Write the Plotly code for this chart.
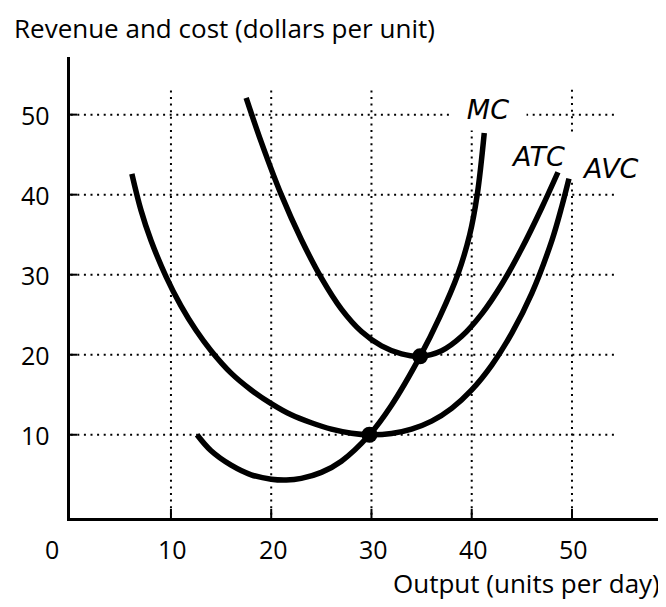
import plotly.graph_objects as go

# ---- data ----
x_ticks = [10, 20, 30, 40, 50]
x_tick_labels = ["10", "20", "30", "40", "50"]
y_ticks = [10, 20, 30, 40, 50]
y_tick_labels = ["10", "20", "30", "40", "50"]

mc_x = [12.6, 14, 16, 18, 20, 21.5, 23, 25, 27, 29.8, 32, 34.85, 36.8, 38.6, 39.8, 40.55, 41.25]
mc_y = [10.0, 8.0, 6.2, 5.0, 4.45, 4.35, 4.55, 5.3, 6.7, 10.0, 13.7, 19.8, 24.7, 30.0, 35.0, 40.0, 47.7]

atc_x = [17.5, 19, 21, 23, 25, 27, 29, 31, 33, 34.85, 37, 39, 41, 43, 45, 47, 48.6]
atc_y = [52.1, 46.6, 40.0, 34.4, 29.6, 25.7, 22.9, 21.1, 20.1, 19.8, 20.5, 22.3, 25.1, 28.8, 33.3, 38.4, 42.8]

avc_x = [6.1, 7, 8, 9.5, 11, 12.5, 14, 16, 18, 20, 22, 24, 26, 28, 29.8, 32, 34, 36, 38, 40, 42, 44, 46, 48, 49, 49.7]
avc_y = [42.6, 38.1, 34.3, 29.8, 26.1, 23.05, 20.5, 17.7, 15.6, 13.9, 12.5, 11.5, 10.7, 10.2, 10.0, 10.15, 10.7, 11.7, 13.3, 15.6, 18.7, 22.7, 27.7, 34.3, 38.6, 42.0]

dot_x = [29.8, 34.85]
dot_y = [10.0, 19.8]

curve_labels = ["MC", "ATC", "AVC"]
label_x = [41.6, 46.6, 53.8]
label_y = [50.6, 44.75, 43.25]

y_title = "Revenue and cost (dollars per unit)"
x_title = "Output (units per day)"

FONT = "Open Sans"
LABEL_FONT = "DejaVu Sans"
FS = 25
X0, X1 = -0.07, 58.58
Y0, Y1 = -0.4, 57.2
GRID_X_END = 54.2
GRID_Y_END = 53.4

fig = go.Figure()

for xs, ys in [(avc_x, avc_y), (atc_x, atc_y), (mc_x, mc_y)]:
    fig.add_trace(go.Scatter(x=xs, y=ys, mode="lines",
                             line=dict(color="black", width=5.5, shape="spline", smoothing=1.0),
                             hoverinfo="skip", showlegend=False))

fig.add_trace(go.Scatter(x=dot_x, y=dot_y, mode="markers",
                         marker=dict(color="black", size=16),
                         hoverinfo="skip", showlegend=False))

shapes = []
dash = "2px,4.6px"
grid_line = dict(color="black", width=2, dash=dash)
for v in y_ticks:
    shapes.append(dict(type="line", xref="x", yref="y", x0=0, x1=GRID_X_END, y0=v, y1=v,
                       line=grid_line, layer="below"))
    shapes.append(dict(type="line", xref="x", yref="y", xsizemode="pixel", xanchor=X0,
                       x0=-10, x1=7, y0=v, y1=v, line=dict(color="black", width=2)))
for v in x_ticks:
    if v == x_ticks[-1]:
        # the last vertical grid line is interrupted beside the curve labels
        segs = [(0, 41.5), (47.9, GRID_Y_END)]
    else:
        segs = [(0, GRID_Y_END)]
    for a, b in segs:
        shapes.append(dict(type="line", xref="x", yref="y", x0=v, x1=v, y0=a, y1=b,
                           line=grid_line, layer="below"))
    shapes.append(dict(type="line", xref="x", yref="y", ysizemode="pixel", yanchor=Y0,
                       y0=-9, y1=9, x0=v, x1=v, line=dict(color="black", width=2)))

annotations = []
for v, t in zip(y_ticks, y_tick_labels):
    annotations.append(dict(x=X0, y=v, xref="x", yref="y", text=t, showarrow=False,
                            xanchor="right", yanchor="middle", xshift=-18,
                            font=dict(family=FONT, size=FS, color="black")))
for v, t in zip(x_ticks, x_tick_labels):
    annotations.append(dict(x=v, y=Y0, xref="x", yref="y", text=t, showarrow=False,
                            xanchor="center", yanchor="middle", yshift=-31, xshift=2,
                            font=dict(family=FONT, size=FS, color="black")))
annotations.append(dict(x=X0, y=Y0, xref="x", yref="y", text="0", showarrow=False,
                        xanchor="center", yanchor="middle", xshift=-18, yshift=-31,
                        font=dict(family=FONT, size=FS, color="black")))

for i, (t, lx, ly) in enumerate(zip(curve_labels, label_x, label_y)):
    ann = dict(x=lx, y=ly, xref="x", yref="y", text="<i>" + t + "</i>",
               showarrow=False, xanchor="center", yanchor="middle",
               font=dict(family=LABEL_FONT, size=27, color="black"))
    if i == 0:
        ann.update(bgcolor="white", borderpad=5, width=66)
    annotations.append(ann)

annotations.append(dict(x=-0.0986, y=1.1063, xref="paper", yref="paper", text=y_title,
                        showarrow=False, xanchor="left", yanchor="top",
                        font=dict(family=FONT, size=26, color="black")))
annotations.append(dict(x=1.007, y=-0.14, xref="paper", yref="paper", text=x_title,
                        showarrow=False, xanchor="right", yanchor="middle",
                        font=dict(family=FONT, size=26, color="black")))

# the page body adds an 8px offset, so the figure is 8px smaller and margins shifted
fig.update_layout(
    width=658, height=599,
    margin=dict(l=62, r=8, t=49, b=89),
    plot_bgcolor="white", paper_bgcolor="white",
    xaxis=dict(range=[X0, X1], showgrid=False, zeroline=False, showticklabels=False,
               ticks="", showline=True, linecolor="black", linewidth=3),
    yaxis=dict(range=[Y0, Y1], showgrid=False, zeroline=False, showticklabels=False,
               ticks="", showline=True, linecolor="black", linewidth=3),
    shapes=shapes,
    annotations=annotations,
)

fig.write_html("out.html")
